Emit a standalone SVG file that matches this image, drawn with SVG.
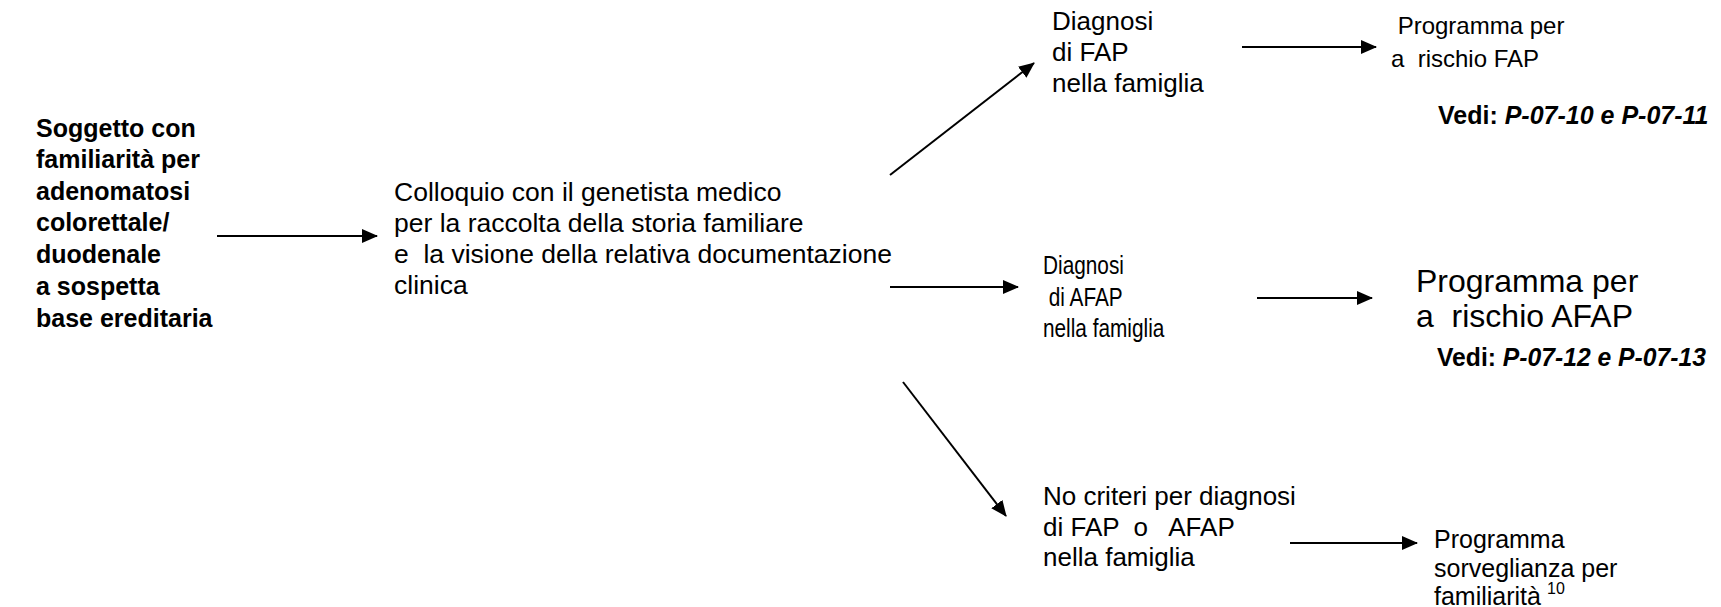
<svg xmlns="http://www.w3.org/2000/svg" width="1721" height="607" viewBox="0 0 1721 607">
<style>
text { font-family: "Liberation Sans", Arial, sans-serif; fill: #000; white-space: pre; }
.n26 { font-size: 26px; }
.b25 { font-size: 25px; font-weight: bold; }
.b26 { font-size: 26px; font-weight: bold; }
.it { font-style: italic; }
.conn line { stroke: #000; stroke-width: 2; fill: none; marker-end: url(#ah); }
</style>
<defs>
<marker id="ah" markerUnits="userSpaceOnUse" viewBox="0 0 16 14" markerWidth="16" markerHeight="14" refX="15" refY="7" orient="auto">
<path d="M0,0 L16,7 L0,14 z" fill="#000"/>
</marker>
</defs>
<rect width="1721" height="607" fill="#fff"/>

<g id="n-soggetto">
<text class="b25"><tspan x="36" y="137">Soggetto con</tspan><tspan x="36" y="168">familiarità per</tspan><tspan x="36" y="200">adenomatosi</tspan><tspan x="36" y="231">colorettale/</tspan><tspan x="36" y="263">duodenale</tspan><tspan x="36" y="295">a sospetta</tspan><tspan x="36" y="327">base ereditaria</tspan></text>
</g>

<g id="n-colloquio">
<text style="font-size:26.5px"><tspan x="394" y="201">Colloquio con il genetista medico</tspan><tspan x="394" y="232">per la raccolta della storia familiare</tspan><tspan x="394" y="263">e  la visione della relativa documentazione</tspan><tspan x="394" y="294">clinica</tspan></text>
</g>

<g id="n-diagnosi-fap">
<text class="n26"><tspan x="1052" y="30">Diagnosi</tspan><tspan x="1052" y="61">di FAP</tspan><tspan x="1052" y="92">nella famiglia</tspan></text>
</g>

<g id="n-programma-fap">
<text style="font-size:24px"><tspan x="1391" y="34"> Programma per</tspan><tspan x="1391" y="67">a  rischio FAP</tspan></text>
<text class="b25" x="1438" y="124">Vedi: <tspan class="it">P-07-10 e P-07-11</tspan></text>
</g>

<g id="n-diagnosi-afap">
<text class="n26" transform="translate(1043,0) scale(0.8,1)"><tspan x="0" y="274">Diagnosi</tspan><tspan x="0" y="306"> di AFAP</tspan><tspan x="0" y="337">nella famiglia</tspan></text>
</g>

<g id="n-programma-afap">
<text style="font-size:32px"><tspan x="1416" y="292">Programma per</tspan><tspan x="1416" y="327">a  rischio AFAP</tspan></text>
<text class="b26" transform="translate(1437,0) scale(0.95,1)" x="0" y="366">Vedi: <tspan class="it">P-07-12 e P-07-13</tspan></text>
</g>

<g id="n-no-criteri">
<text class="n26"><tspan x="1043" y="505">No criteri per diagnosi</tspan><tspan x="1043" y="536">di FAP  o   AFAP</tspan><tspan x="1043" y="566">nella famiglia</tspan></text>
</g>

<g id="n-sorveglianza">
<text style="font-size:25px"><tspan x="1434" y="548">Programma</tspan><tspan x="1434" y="577">sorveglianza per</tspan><tspan x="1434" y="605">familiarità</tspan><tspan x="1547" y="594" style="font-size:16px">10</tspan></text>
</g>

<g id="connectors" class="conn">
<line x1="217" y1="236" x2="377" y2="236"/>
<line x1="890" y1="175" x2="1034" y2="63"/>
<line x1="890" y1="287" x2="1018" y2="287"/>
<line x1="903" y1="382" x2="1006" y2="516"/>
<line x1="1242" y1="47" x2="1376" y2="47"/>
<line x1="1257" y1="298" x2="1372" y2="298"/>
<line x1="1290" y1="543" x2="1417" y2="543"/>
</g>
</svg>
